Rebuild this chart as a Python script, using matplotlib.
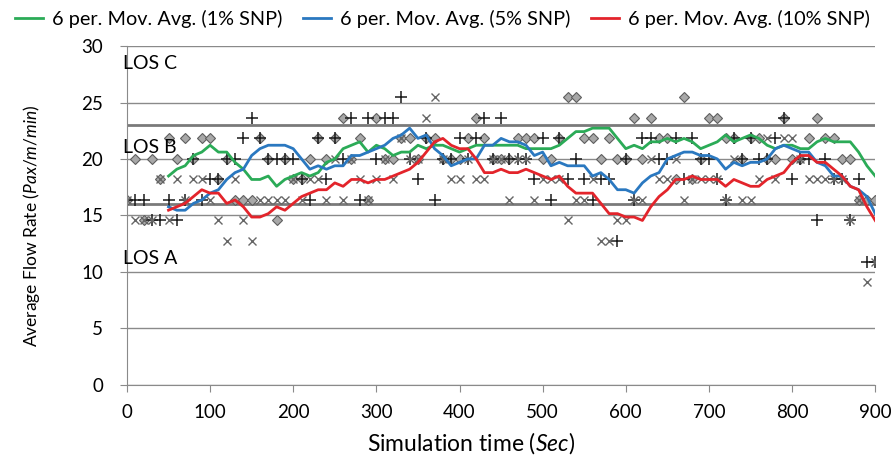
import matplotlib
matplotlib.use('Agg')
import matplotlib.pyplot as plt
import pandas as pd
from matplotlib.lines import Line2D

plt.rcParams['font.family'] = ['Lato', 'DejaVu Sans']
plt.rcParams['mathtext.fontset'] = 'custom'
plt.rcParams['mathtext.rm'] = 'Lato'
plt.rcParams['mathtext.it'] = 'Lato:italic'

# Simulation time (sec), one sample every 10 s
time_sec = list(range(0, 901, 10))

# Flow rate samples (Pax/m/min)
snp_1 = [16.36, 20.0, 14.55, 20.0, 18.18, 21.82, 20.0, 21.82, 20.0, 21.82,
         21.82, 18.18, 20.0, 16.36, 16.36, 16.36, 21.82, 20.0, 14.55, 20.0,
         18.18, 18.18, 20.0, 21.82, 20.0, 21.82, 23.64, 20.0, 21.82, 16.36,
         23.64, 20.0, 20.0, 21.82, 21.82, 20.0, 21.82, 21.82, 20.0, 20.0,
         20.0, 21.82, 23.64, 21.82, 20.0, 20.0, 20.0, 21.82, 21.82, 21.82,
         20.0, 20.0, 21.82, 25.45, 25.45, 21.82, 21.82, 20.0, 21.82, 20.0,
         20.0, 23.64, 20.0, 23.64, 21.82, 21.82, 18.18, 25.45, 18.18, 20.0,
         23.64, 23.64, 21.82, 21.82, 20.0, 21.82, 21.82, 20.0, 20.0, 23.64,
         20.0, 20.0, 21.82, 23.64, 21.82, 21.82, 20.0, 20.0, 16.36, 16.36,
         16.36]
snp_5 = [16.36, 16.36, 16.36, 14.55, 14.55, 16.36, 14.55, 16.36, 20.0, 16.36,
         18.18, 18.18, 20.0, 20.0, 21.82, 23.64, 21.82, 20.0, 20.0, 20.0,
         20.0, 18.18, 16.36, 21.82, 18.18, 21.82, 20.0, 23.64, 16.36, 23.64,
         20.0, 23.64, 23.64, 25.45, 20.0, 18.18, 21.82, 16.36, 20.0, 20.0,
         21.82, 20.0, 21.82, 23.64, 20.0, 23.64, 20.0, 20.0, 20.0, 18.18,
         21.82, 16.36, 21.82, 18.18, 20.0, 18.18, 16.36, 18.18, 18.18, 12.73,
         20.0, 16.36, 21.82, 21.82, 20.0, 20.0, 21.82, 18.18, 21.82, 20.0,
         20.0, 18.18, 16.36, 21.82, 20.0, 21.82, 20.0, 20.0, 21.82, 23.64,
         18.18, 20.0, 20.0, 14.55, 20.0, 18.18, 18.18, 14.55, 18.18, 10.91,
         10.91]
snp_10 = [16.36, 14.55, 14.55, 14.55, 18.18, 14.55, 18.18, 16.36, 18.18, 18.18,
          16.36, 14.55, 12.73, 18.18, 14.55, 12.73, 16.36, 16.36, 16.36, 16.36,
          18.18, 16.36, 18.18, 18.18, 16.36, 20.0, 16.36, 20.0, 18.18, 16.36,
          18.18, 20.0, 18.18, 21.82, 20.0, 20.0, 23.64, 25.45, 20.0, 18.18,
          18.18, 20.0, 18.18, 18.18, 20.0, 20.0, 16.36, 20.0, 20.0, 16.36,
          18.18, 18.18, 18.18, 14.55, 16.36, 16.36, 18.18, 12.73, 12.73, 14.55,
          14.55, 16.36, 16.36, 20.0, 18.18, 18.18, 20.0, 16.36, 18.18, 18.18,
          18.18, 18.18, 16.36, 20.0, 16.36, 16.36, 18.18, 21.82, 18.18, 21.82,
          21.82, 20.0, 18.18, 18.18, 18.18, 18.18, 18.18, 14.55, 16.36, 9.09,
          10.91]

los_limits = [16, 23]
los_names = ['LOS C', 'LOS B', 'LOS A']
los_label_y = [28.5, 21.0, 11.2]

legend_labels = ['6 per. Mov. Avg. (1% SNP)', '6 per. Mov. Avg. (5% SNP)',
                 '6 per. Mov. Avg. (10% SNP)']
line_colors = ['#2bab57', '#2a78c0', '#e3242b']

fig = plt.figure(figsize=(8.94, 4.55), dpi=100)
ax = fig.add_axes([0.142, 0.1547, 0.837, 0.744])

grey = '#8a8a8a'
ax.set_xlim(0, 900)
ax.set_ylim(0, 30)
ax.set_xticks(range(0, 901, 100))
ax.set_yticks(range(0, 31, 5))
ax.yaxis.grid(True, color=grey, lw=1)
ax.set_axisbelow(True)
for s in ['top', 'right']:
    ax.spines[s].set_visible(False)
for s in ['left', 'bottom']:
    ax.spines[s].set_color(grey)
ax.tick_params(direction='out', length=5, color=grey, labelsize=13.5)
ax.tick_params(axis='y', pad=12)
ax.tick_params(axis='x', pad=9)

# LOS thresholds
for lim in los_limits:
    ax.axhline(lim, color='#7a7a7a', lw=2, zorder=1.5)
for name, yv in zip(los_names, los_label_y):
    ax.text(-5, yv, name, fontsize=14, ha='left', va='center')

# raw samples
ax.plot(time_sec, snp_1, ls='none', marker='D', ms=5.5, mfc='#a8a8a8', mec='#5e5e5e', mew=0.8, zorder=2)
ax.plot(time_sec, snp_5, ls='none', marker='+', ms=8, mec='#1a1a1a', mew=1.1, zorder=2.1)
ax.plot(time_sec, snp_10, ls='none', marker='x', ms=6, mec='#666666', mew=1.0, zorder=2.2)

# 6 period moving averages
handles = []
for vals, col in zip([snp_1, snp_5, snp_10], line_colors):
    ma = pd.Series(vals).rolling(6).mean()
    ax.plot(time_sec, ma, color=col, lw=2, zorder=3)
    handles.append(Line2D([], [], color=col, lw=2))

ax.set_xlabel('Simulation time ($\\mathit{Sec}$)', fontsize=16.5)
ax.xaxis.set_label_coords((471 - 127) / 748, -0.135)
ax.set_ylabel('Average Flow Rate ($\\mathit{Pax/m/min}$)', fontsize=12.5)
ax.yaxis.set_label_coords(-0.113, 0.47)

fig.legend(handles, legend_labels, loc='upper center', ncol=3, bbox_to_anchor=(0.495, 1.005),
           frameon=False, fontsize=14.3, handlelength=1.4, handletextpad=0.5,
           columnspacing=1.0, borderaxespad=0.2)

fig.savefig('out.png', dpi=100)
